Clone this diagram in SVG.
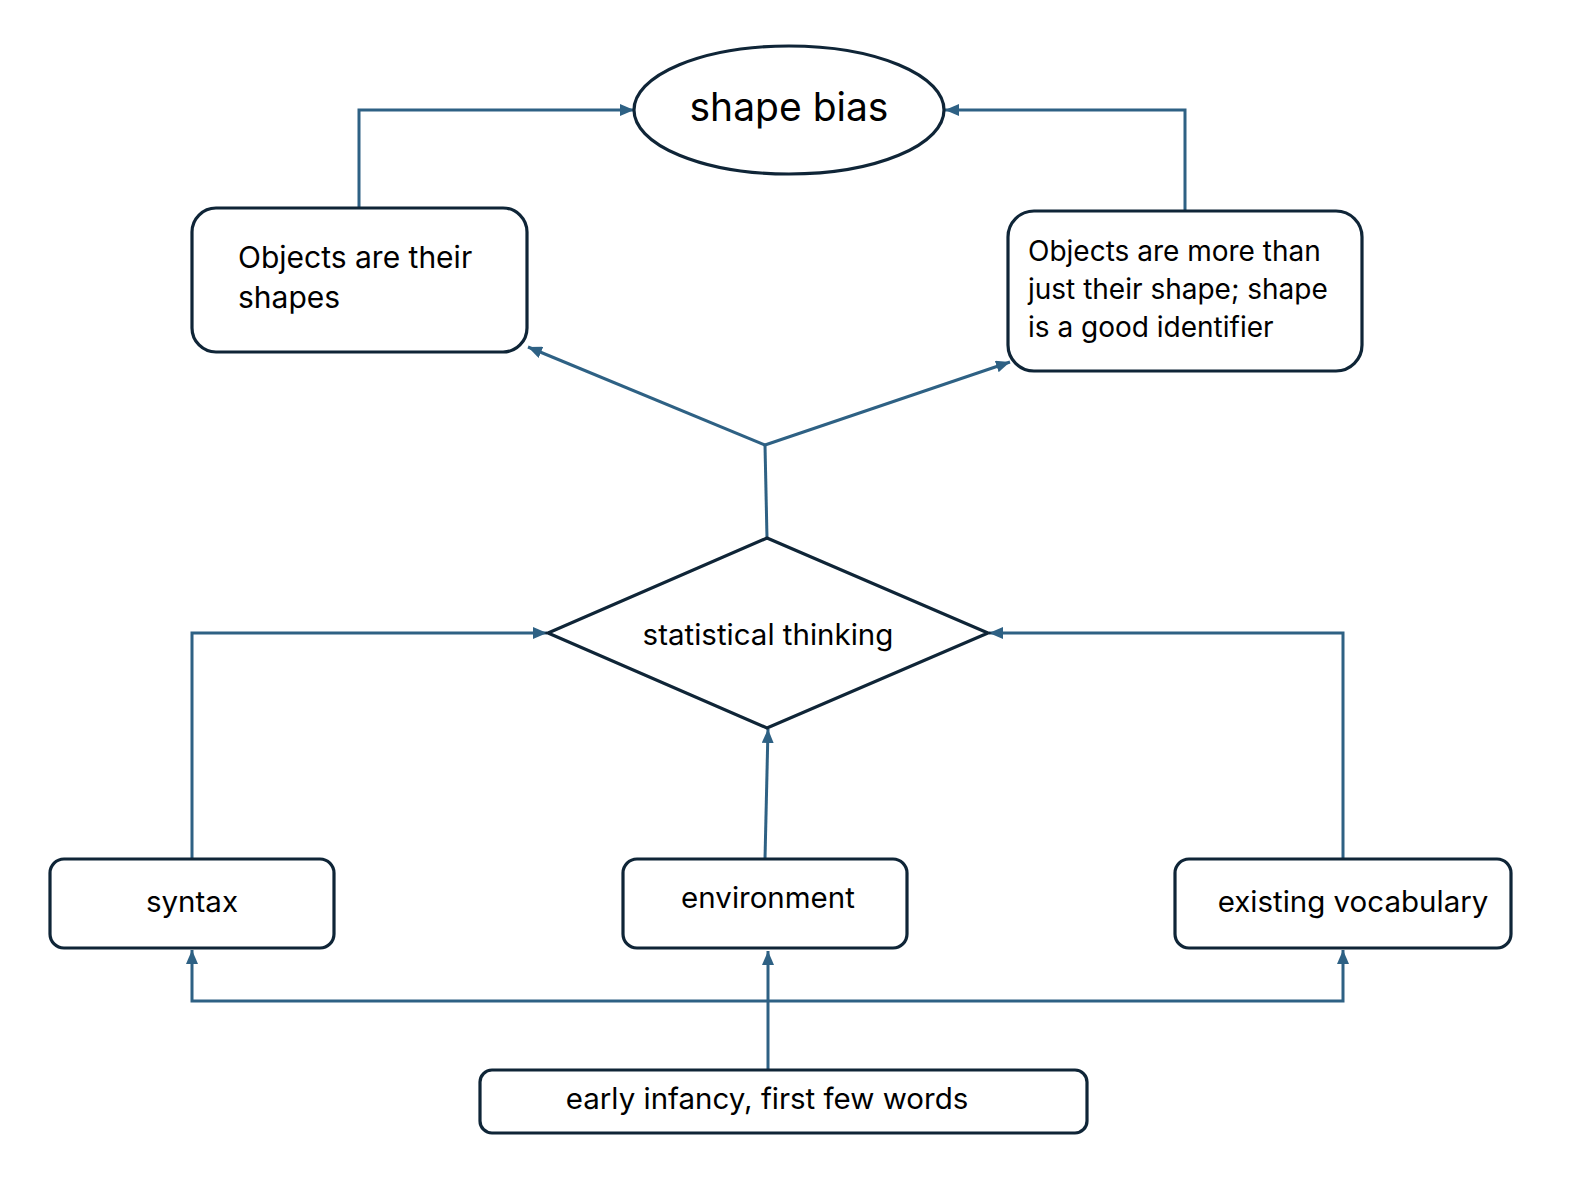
<svg xmlns="http://www.w3.org/2000/svg" width="1580" height="1198" viewBox="0 0 1580 1198">
<style>
.node{fill:#fff;stroke:#0f2537;stroke-width:3.2}
.c{fill:none;stroke:#2e6184;stroke-width:3}
text{font-family:Inter,"Noto Sans","Liberation Sans",sans-serif;fill:#000}
</style>
<defs>
<marker id="ah" viewBox="0 0 14 12" refX="14" refY="6" markerWidth="14" markerHeight="12" markerUnits="userSpaceOnUse" orient="auto">
<path d="M0,0 L14,6 L0,12 Z" fill="#2e6184"/>
</marker>
</defs>
<rect width="1580" height="1198" fill="#fff"/>
<g id="connectors">
<path class="c" d="M359,208 V110 H634" marker-end="url(#ah)"/>
<path class="c" d="M1185,211 V110 H945" marker-end="url(#ah)"/>
<path class="c" d="M767,538 L765,445"/>
<path class="c" d="M765,445 L528,347" marker-end="url(#ah)"/>
<path class="c" d="M765,445 L1010,362" marker-end="url(#ah)"/>
<path class="c" d="M192,859 V633 H547" marker-end="url(#ah)"/>
<path class="c" d="M1343,859 V633 H989" marker-end="url(#ah)"/>
<path class="c" d="M765,859 L768,729" marker-end="url(#ah)"/>
<path class="c" d="M768,1070 V951" marker-end="url(#ah)"/>
<path class="c" d="M768,1001 H192 V950" marker-end="url(#ah)"/>
<path class="c" d="M768,1001 H1343 V950" marker-end="url(#ah)"/>
</g>
<g id="shape-bias">
<ellipse class="node" cx="789" cy="110" rx="155" ry="64"/>
<text x="789" y="121" text-anchor="middle" font-size="39">shape bias</text>
</g>
<g id="objects-shapes">
<rect class="node" x="192" y="208" width="335" height="144" rx="24"/>
<text x="238" y="268" font-size="30">Objects are their</text>
<text x="238" y="308" font-size="30">shapes</text>
</g>
<g id="objects-more">
<rect class="node" x="1008" y="211" width="354" height="160" rx="26"/>
<text x="1028" y="261" font-size="28">Objects are more than</text>
<text x="1028" y="299" font-size="28">just their shape; shape</text>
<text x="1028" y="337" font-size="28">is a good identifier</text>
</g>
<g id="statistical-thinking">
<polygon class="node" points="767,538 988,633 767,728 548,633"/>
<text x="768" y="645" text-anchor="middle" font-size="29.5">statistical thinking</text>
</g>
<g id="syntax">
<rect class="node" x="50" y="859" width="284" height="89" rx="14"/>
<text x="192" y="912" text-anchor="middle" font-size="29.5">syntax</text>
</g>
<g id="environment">
<rect class="node" x="623" y="859" width="284" height="89" rx="14"/>
<text x="768" y="908" text-anchor="middle" font-size="29.5">environment</text>
</g>
<g id="existing-vocabulary">
<rect class="node" x="1175" y="859" width="336" height="89" rx="14"/>
<text x="1353" y="912" text-anchor="middle" font-size="29.5">existing vocabulary</text>
</g>
<g id="early-infancy">
<rect class="node" x="480" y="1070" width="607" height="63" rx="12"/>
<text x="767" y="1109" text-anchor="middle" font-size="29.5">early infancy, first few words</text>
</g>
</svg>
